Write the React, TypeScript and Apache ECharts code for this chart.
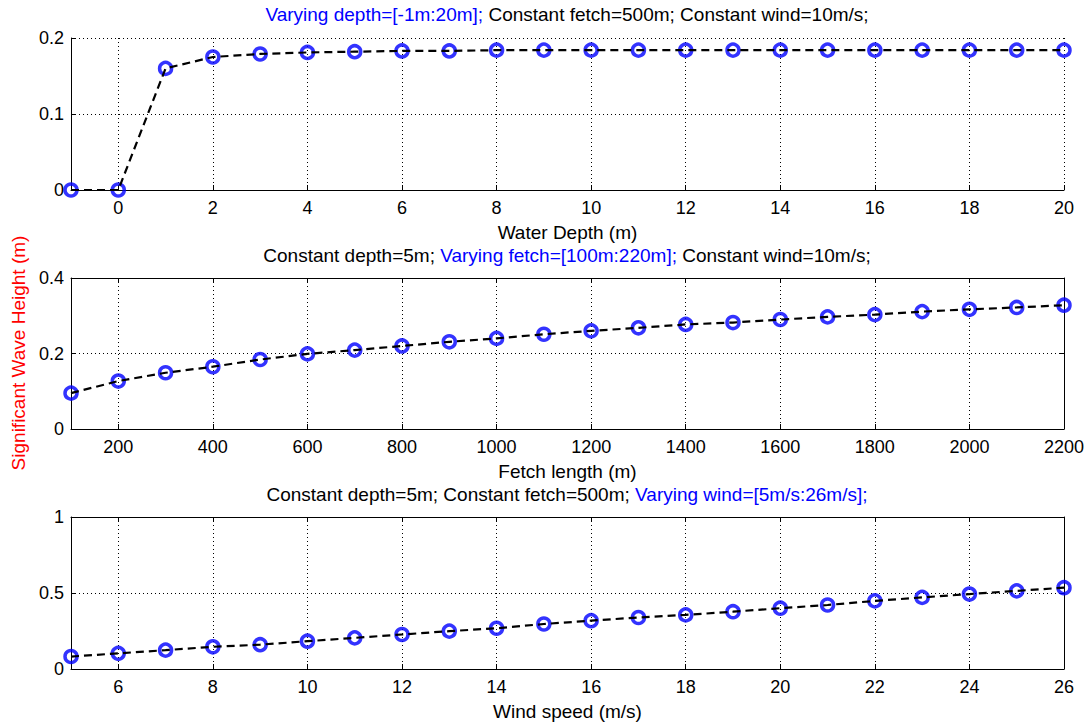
import React, { useEffect, useRef } from "react";
import * as echarts from "echarts";

const depthX = [-1, 0, 1, 2, 3, 4, 5, 6, 7, 8, 9, 10, 11, 12, 13, 14, 15, 16, 17, 18, 19, 20];
const depthH = [0, 0, 0.160, 0.175, 0.179, 0.181, 0.182, 0.183, 0.183, 0.184, 0.184, 0.184, 0.184, 0.184, 0.184, 0.184, 0.184, 0.184, 0.184, 0.184, 0.184, 0.184];

const fetchX = [100, 200, 300, 400, 500, 600, 700, 800, 900, 1000, 1100, 1200, 1300, 1400, 1500, 1600, 1700, 1800, 1900, 2000, 2100, 2200];
const fetchH = [0.095, 0.127, 0.149, 0.165, 0.184, 0.199, 0.209, 0.220, 0.231, 0.240, 0.251, 0.260, 0.268, 0.277, 0.282, 0.290, 0.297, 0.303, 0.311, 0.317, 0.322, 0.328];

const windX = [5, 6, 7, 8, 9, 10, 11, 12, 13, 14, 15, 16, 17, 18, 19, 20, 21, 22, 23, 24, 25, 26];
const windH = [0.082, 0.103, 0.124, 0.146, 0.160, 0.183, 0.205, 0.227, 0.249, 0.268, 0.296, 0.318, 0.339, 0.356, 0.377, 0.400, 0.421, 0.448, 0.471, 0.493, 0.514, 0.535];

const depthTicks = [0, 2, 4, 6, 8, 10, 12, 14, 16, 18, 20];
const fetchTicks = [200, 400, 600, 800, 1000, 1200, 1400, 1600, 1800, 2000, 2200];
const windTicks = [6, 8, 10, 12, 14, 16, 18, 20, 22, 24, 26];

const titles = [
  ["Varying depth=[-1m:20m];", " Constant fetch=500m; Constant wind=10m/s;", 0],
  ["Constant depth=5m; ", "Varying fetch=[100m:220m];", " Constant wind=10m/s;"],
  ["Constant depth=5m; Constant fetch=500m; ", "Varying wind=[5m/s:26m/s];", ""],
];
const xNames = ["Water Depth (m)", "Fetch length (m)", "Wind speed (m/s)"];
const yLabel = "Significant Wave Height (m)";

const FONT = "'Liberation Sans', Arial, sans-serif";
const FS = 18;
const FT = 19;

export default function App() {
  const ref = useRef<HTMLDivElement>(null);
  useEffect(() => {
    if (!ref.current) return;
    const chart = echarts.init(ref.current, null, { renderer: "svg" });
    const gridTops = [38, 278, 517];
    const gridHeights = [152, 151, 152];
    const xRanges = [
      [-1, 20, depthTicks],
      [100, 2200, fetchTicks],
      [5, 26, windTicks],
    ] as const;
    const yRanges = [
      [0, 0.2, 0.1],
      [0, 0.4, 0.2],
      [0, 1, 0.5],
    ];
    const dataSets = [
      depthX.map((x, i) => [x, depthH[i]]),
      fetchX.map((x, i) => [x, fetchH[i]]),
      windX.map((x, i) => [x, windH[i]]),
    ];
    const grids = gridTops.map((t, i) => ({
      left: 71,
      right: 24,
      top: t,
      height: gridHeights[i],
    }));
    const axisLine = { show: true, onZero: false, lineStyle: { color: "#000", width: 1 } };
    const splitLine = { show: true, lineStyle: { color: "#000", width: 1, type: [1, 3] as any } };
    const labelStyle = { color: "#000", fontFamily: FONT, fontSize: FS };
    const fmt = (v: number) => String(v);
    const xAxes: any[] = [];
    const yAxes: any[] = [];
    for (let i = 0; i < 3; i++) {
      const [mn, mx, ticks] = xRanges[i];
      xAxes.push({
        type: "value",
        gridIndex: i,
        position: "bottom",
        min: mn,
        max: mx,
        axisLine,
        axisTick: { show: true, inside: true, length: 5, customValues: ticks, lineStyle: { color: "#000" } },
        axisLabel: { ...labelStyle, customValues: ticks, margin: 9, formatter: fmt },
        splitLine,
        name: xNames[i],
        nameLocation: "middle",
        nameGap: 33,
        nameTextStyle: { color: "#000", fontFamily: FONT, fontSize: FT },
      });
      const [ymn, ymx, yint] = yRanges[i];
      yAxes.push({
        type: "value",
        gridIndex: i,
        position: "left",
        min: ymn,
        max: ymx,
        interval: yint,
        axisLine,
        axisTick: { show: true, inside: true, length: 5, lineStyle: { color: "#000" } },
        axisLabel: { ...labelStyle, margin: 7, formatter: fmt },
        splitLine,
      });
    }
    for (let i = 1; i < 3; i++) {
      const [mn, mx, ticks] = xRanges[i];
      xAxes.push({
        type: "value",
        gridIndex: i,
        position: "top",
        min: mn,
        max: mx,
        axisLine,
        axisTick: { show: true, inside: true, length: 5, customValues: ticks, lineStyle: { color: "#000" } },
        axisLabel: { show: false },
        splitLine: { show: false },
      });
      const [ymn, ymx, yint] = yRanges[i];
      yAxes.push({
        type: "value",
        gridIndex: i,
        position: "right",
        min: ymn,
        max: ymx,
        interval: yint,
        axisLine,
        axisTick: { show: true, inside: true, length: 5, lineStyle: { color: "#000" } },
        axisLabel: { show: false },
        splitLine: { show: false },
      });
    }
    const series: any[] = [];
    for (let i = 0; i < 3; i++) {
      series.push({
        type: "scatter",
        xAxisIndex: i,
        yAxisIndex: i,
        data: dataSets[i],
        symbol: "circle",
        symbolSize: 12,
        clip: false,
        itemStyle: { color: "rgba(0,0,0,0)", borderColor: "#0000ff", borderWidth: 3.5 },
        z: 2,
      });
      series.push({
        type: "line",
        xAxisIndex: i,
        yAxisIndex: i,
        data: dataSets[i],
        showSymbol: false,
        symbol: "none",
        clip: false,
        lineStyle: { color: "#000", width: 2.2, type: [8, 5] as any },
        z: 3,
      });
    }
    const titleTops = [5, 246, 485];
    const title = titles.map((t, i) => {
      const parts: string[] = [];
      if (i === 0) {
        parts.push(`{b|${t[0]}}`, `{k|${t[1]}}`);
      } else if (i === 1) {
        parts.push(`{k|${t[0]}}`, `{b|${t[1]}}`, `{k|${t[2]}}`);
      } else {
        parts.push(`{k|${t[0]}}`, `{b|${t[1]}}`);
      }
      return {
        text: parts.join(""),
        left: 567,
        top: titleTops[i],
        textAlign: "center",
        padding: 0,
        textStyle: {
          fontWeight: "normal",
          rich: {
            b: { color: "#0000ff", fontFamily: FONT, fontSize: FT, fontWeight: "normal" },
            k: { color: "#000", fontFamily: FONT, fontSize: FT, fontWeight: "normal" },
          },
        },
      };
    });
    chart.setOption({
      animation: false,
      backgroundColor: "#fff",
      title,
      grid: grids,
      xAxis: xAxes,
      yAxis: yAxes,
      series,
      graphic: [
        {
          type: "text",
          x: 18,
          y: 353,
          rotation: Math.PI / 2,
          style: {
            text: yLabel,
            fill: "#ff0000",
            fontFamily: FONT,
            fontSize: FT,
            align: "center",
            verticalAlign: "middle",
          },
        },
      ],
    });
    return () => chart.dispose();
  }, []);
  return <div ref={ref} style={{ width: 1088, height: 724, position: "absolute", left: 0, top: 0 }} />;
}
